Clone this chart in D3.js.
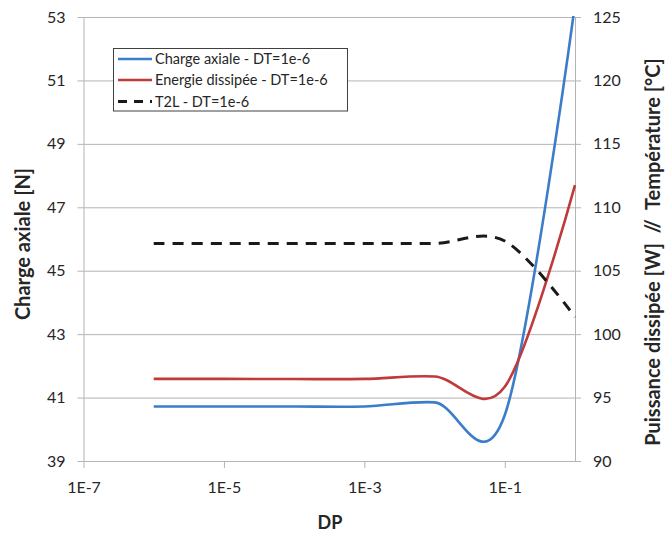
<!DOCTYPE html>
<html>
<head>
<meta charset="utf-8">
<script src="https://cdn.jsdelivr.net/npm/d3@7"></script>
<style>
  html, body { margin: 0; padding: 0; background: #fff; }
  svg { display: block; font-family: Lato, "Open Sans", sans-serif; }
</style>
</head>
<body>
<svg id="chart" width="665" height="534"></svg>
<script>
// ---- data ----
const dp = [1e-6, 1e-5, 1e-4, 1e-3, 1e-2, 1e-1, 1];
const chargeAxiale = [40.72, 40.72, 40.72, 40.72, 40.85, 40.45, 53.4];
const energieDissipee = [96.47, 96.47, 96.46, 96.47, 96.66, 95.85, 111.75];
const t2l = [107.15, 107.15, 107.15, 107.15, 107.15, 107.34, 101.35];
const xTicks = [1e-7, 1e-5, 1e-3, 1e-1];
const xTickLabels = ["1E-7", "1E-5", "1E-3", "1E-1"];
const leftTicks = [39, 41, 43, 45, 47, 49, 51, 53];
const rightTicks = [90, 95, 100, 105, 110, 115, 120, 125];
const seriesNames = ["Charge axiale - DT=1e-6", "Energie dissipée - DT=1e-6", "T2L - DT=1e-6"];

// ---- layout ----
const L = 83.5, R = 575, T = 17, B = 461;
const svg = d3.select("#chart");
const x = d3.scaleLog().domain([1e-7, 1]).range([L, R]);
const yL = d3.scaleLinear().domain([39, 53]).range([B, T]);
const yR = d3.scaleLinear().domain([90, 125]).range([B, T]);

const gridColor = "#b4b4b4";
const textColor = "#262626";

// gridlines (left ticks)
svg.append("g")
  .attr("transform", `translate(${L},0)`)
  .call(d3.axisLeft(yL).tickValues(leftTicks).tickSize(6).tickSizeOuter(0).tickPadding(12))
  .call(g => g.select(".domain").attr("stroke", gridColor))
  .call(g => g.selectAll(".tick line").attr("stroke", gridColor))
  .call(g => g.selectAll(".tick text").attr("fill", textColor).style("font-size", "16px").style("font-family", "Lato"))
  .call(g => g.selectAll(".tick").append("line")
      .attr("x1", 0).attr("x2", R - L).attr("stroke", gridColor).attr("stroke-width", 1));

// right axis
svg.append("g")
  .attr("transform", `translate(${R},0)`)
  .call(d3.axisRight(yR).tickValues(rightTicks).tickSize(6).tickSizeOuter(0).tickPadding(12))
  .call(g => g.select(".domain").attr("stroke", gridColor))
  .call(g => g.selectAll(".tick line").attr("stroke", gridColor))
  .call(g => g.selectAll(".tick text").attr("fill", textColor).style("font-size", "16px").style("font-family", "Lato"));

// x axis
svg.append("g")
  .attr("transform", `translate(0,${B})`)
  .call(d3.axisBottom(x).tickValues(xTicks).tickFormat((d, i) => xTickLabels[i]).tickSize(7).tickSizeOuter(0).tickPadding(14))
  .call(g => g.select(".domain").attr("stroke", gridColor))
  .call(g => g.selectAll(".tick line").attr("stroke", gridColor))
  .call(g => g.selectAll(".tick text").attr("fill", textColor).style("font-size", "16px").style("font-family", "Lato"));

// titles
svg.append("text")
  .attr("transform", `translate(30,244) rotate(-90)`)
  .attr("text-anchor", "middle")
  .attr("fill", textColor).style("font-weight", "bold").style("font-size", "20px")
  .text("Charge axiale [N]");
svg.append("text")
  .attr("transform", `translate(660,252) rotate(-90)`)
  .attr("text-anchor", "middle")
  .attr("fill", textColor).style("font-weight", "bold").style("font-size", "20px")
  .attr("xml:space", "preserve")
  .text("Puissance dissipée [W]  //  Température [°C]");
svg.append("text")
  .attr("x", 330).attr("y", 529)
  .attr("text-anchor", "middle")
  .attr("fill", textColor).style("font-weight", "bold").style("font-size", "18px")
  .text("DP");

// clip
svg.append("clipPath").attr("id", "plotclip")
  .append("rect").attr("x", L).attr("y", T - 1).attr("width", R - L + 2).attr("height", B - T + 2);

const curve = d3.curveCardinal.tension(0);
const plot = svg.append("g").attr("clip-path", "url(#plotclip)");

const colors = ["#3b7dc8", "#c0393b", "#1a1a1a"];
const series = [
  { vals: chargeAxiale, y: yL, color: colors[0], width: 2.6, dash: null },
  { vals: energieDissipee, y: yR, color: colors[1], width: 2.6, dash: null },
  { vals: t2l, y: yR, color: colors[2], width: 3, dash: "11,8" }
];
series.forEach(s => {
  const line = d3.line().x((d, i) => x(dp[i])).y(d => s.y(d)).curve(curve);
  plot.append("path")
    .attr("d", line(s.vals))
    .attr("fill", "none")
    .attr("stroke", s.color)
    .attr("stroke-width", s.width)
    .attr("stroke-dasharray", s.dash);
});

// legend
const lg = svg.append("g");
lg.append("rect").attr("x", 113.5).attr("y", 48.5).attr("width", 234).attr("height", 62.5)
  .attr("fill", "#fff").attr("stroke", "#404040").attr("stroke-width", 1);
const rowsY = [59, 80, 101.5];
series.forEach((s, i) => {
  lg.append("line").attr("x1", 118).attr("x2", 152).attr("y1", rowsY[i]).attr("y2", rowsY[i])
    .attr("stroke", s.color).attr("stroke-width", s.width).attr("stroke-dasharray", s.dash ? "9,7" : null);
  lg.append("text").attr("x", 155).attr("y", rowsY[i] + 5)
    .attr("fill", textColor).style("font-size", "14.5px")
    .text(seriesNames[i]);
});
</script>
</body>
</html>
